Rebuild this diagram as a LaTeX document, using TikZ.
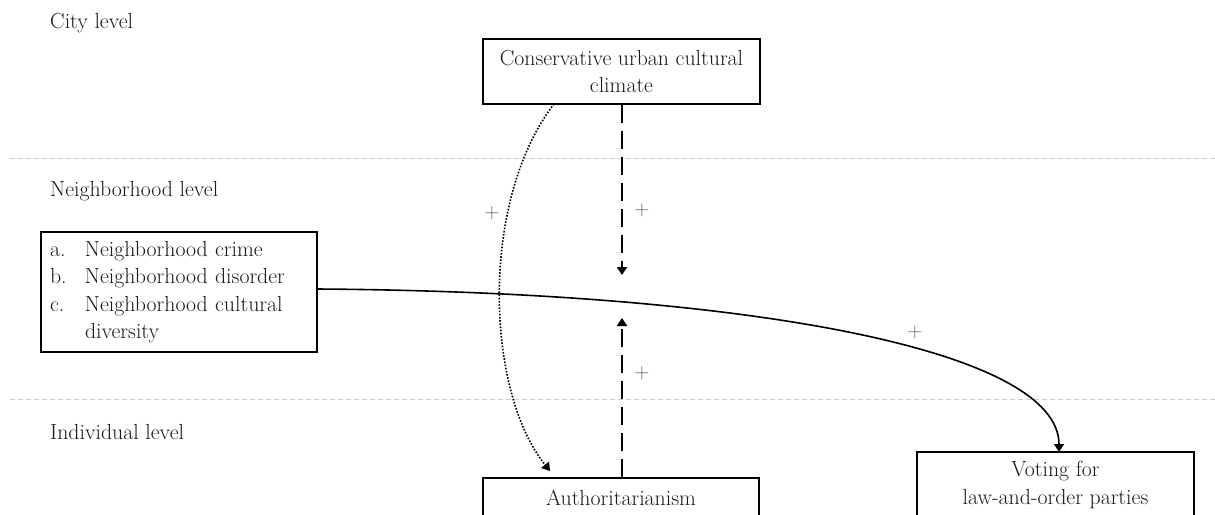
\documentclass[tikz,border=0pt]{standalone}
\usepackage{fontspec}
\usetikzlibrary{arrows.meta,calc}
\definecolor{txt}{gray}{0.1}
\definecolor{sep}{gray}{0.8}
\tikzset{
  lvl/.style={anchor=base west, inner sep=0pt, text=txt, font=\fontsize{21.8}{27}\selectfont},
  box/.style={draw=black, line width=1.4pt, fill=white, align=center, text=txt,
              font=\fontsize{21.8}{27.5}\selectfont, inner sep=0pt},
  sepline/.style={draw=sep, line width=0.9pt, dash pattern=on 5pt off 3pt},
  plus/.style={text=black!60, font=\fontsize{21}{22}\selectfont, inner sep=0pt},
  tip/.style={-{Triangle[length=8pt,width=10pt]}},
  dasharrow/.style={tip, line width=1.8pt, dash pattern=on 18pt off 8pt},
  dotarrow/.style={tip, line width=1.6pt, dash pattern=on 1.6pt off 1.6pt},
  solidarrow/.style={tip, line width=1.6pt},
}
\begin{document}
\begin{tikzpicture}[x=1pt,y=-1pt]
\path[use as bounding box] (0,0) rectangle (1215,514);
\clip (0,0) rectangle (1215,514);
\fill[white] (0,0) rectangle (1215,514);

% level separators
\coordinate (s1a) at (10,158);
\coordinate (s1b) at (1215,158);
\coordinate (s2a) at (10,399);
\coordinate (s2b) at (1215,399);
\draw[sepline] (s1a) -- (s1b);
\draw[sepline] (s2a) -- (s2b);

% level labels
\node[lvl] (city) at (50,28) {City level};
\node[lvl] (nbh) at (50,196) {Neighborhood level};
\node[lvl] (ind) at (50,439) {Individual level};

% boxes
\node[box, minimum width=277pt, minimum height=65pt] (cons) at (621.5,71.5)
  {Conservative urban cultural\\climate};
\node[box, minimum width=276pt, minimum height=120pt, text width=258pt, align=left] (list) at (179,292)
  {\begin{tabular}{@{}l@{}l@{}}
   \makebox[35pt][l]{a.} & Neighborhood crime\\
   \makebox[35pt][l]{b.} & Neighborhood disorder\\
   \makebox[35pt][l]{c.} & Neighborhood cultural\\
    & diversity
   \end{tabular}};
\node[box, minimum width=276pt, minimum height=40pt] (auth) at (621,498) {Authoritarianism};
\node[box, minimum width=277pt, minimum height=66pt] (vote) at (1055.5,485)
  {Voting for\\law-and-order parties};

% arrow end points
\coordinate (downend) at (622,275);
\coordinate (upend) at (622,318);
\coordinate (dotstart) at (554,104);
\coordinate (dotend) at (550,471);
\coordinate (vstart) at (317,289);
\coordinate (vend) at (1059,452);

% connectors
\draw[dasharrow] (cons.south -| downend) -- (downend);
\draw[dasharrow] (auth.north -| upend) -- (upend);
\draw[dotarrow] (dotstart) .. controls (480,200) and (485,390) .. (dotend);
\draw[solidarrow] (vstart) .. controls (750,292) and (1059,350) .. (vend);

% signs
\node[plus] (p1) at (492,213) {+};
\node[plus] (p2) at (642,210) {+};
\node[plus] (p3) at (642,373) {+};
\node[plus] (p4) at (915,332) {+};
\end{tikzpicture}
\end{document}
